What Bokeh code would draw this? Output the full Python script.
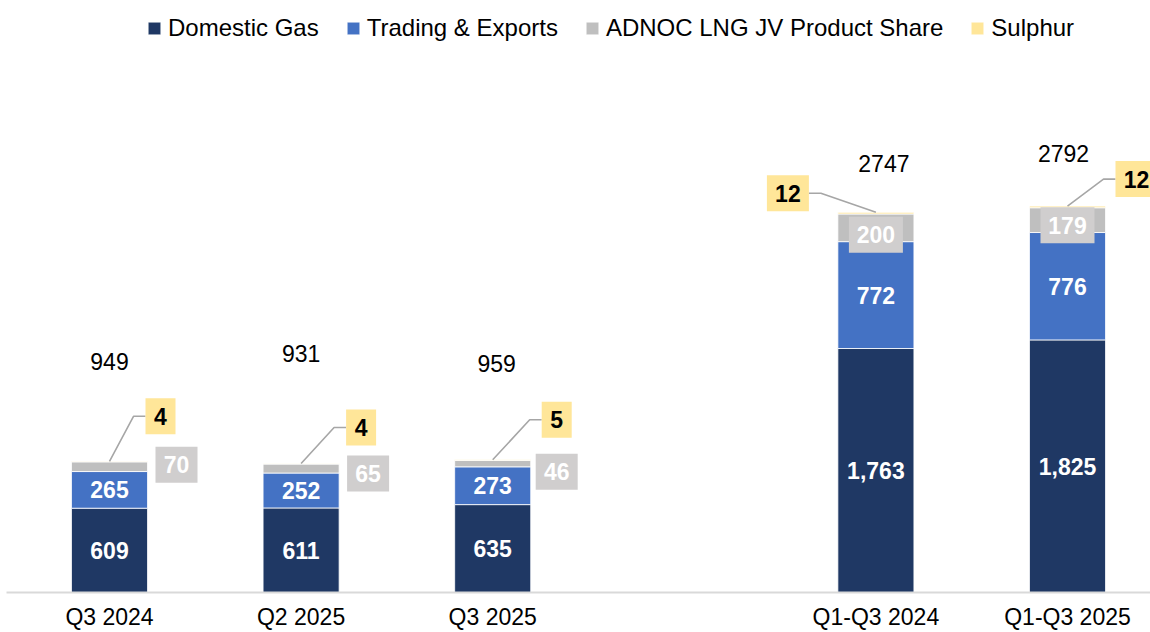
from bokeh.plotting import figure
from bokeh.models import Range1d, FixedTicker, ColumnDataSource
from bokeh.core.properties import value
from bokeh.embed import file_html
from bokeh.resources import INLINE

# ---------------- data ----------------
categories = ["Q3 2024", "Q2 2025", "Q3 2025", "Q1-Q3 2024", "Q1-Q3 2025"]
groups = ["quarter", "quarter", "quarter", "ytd", "ytd"]
domestic_gas = [609, 611, 635, 1763, 1825]
trading_exports = [265, 252, 273, 772, 776]
adnoc_lng = [70, 65, 46, 200, 179]
sulphur = [4, 4, 5, 12, 12]
totals = [949, 931, 959, 2747, 2792]
series_names = ["Domestic Gas", "Trading & Exports", "ADNOC LNG JV Product Share", "Sulphur"]

# ---------------- style / layout ----------------
colors = ["#1F3864", "#4472C4", "#BFBFBF", "#FFE699"]
FONT = value("Liberation Sans")
W, H = 1150, 632
LEFT = 6
BOTTOM = 40
FW, FH = W - LEFT, H - BOTTOM
PX_X = 191.6
X0 = -(109 - LEFT) / PX_X
X1 = X0 + FW / PX_X
PX_Y = 0.1384
Y0, Y1 = 0, FH / PX_Y

# label placement in screen px (dx right, dy up)
sulphur_offsets = [(51, 45), (60, 36), (64, 40), (-88, 19), (69, 27)]
grey_offsets = [(67, 2), (67, -5), (64, -8), (0, -7), (0, -5)]
total_offsets = [(0, 100), (0, 110), (4, 96), (8, 49), (-4, 53)]

# x positions: quarterly group then a gap then YTD group
xpos = []
k = 0
for i, g in enumerate(groups):
    if i > 0 and g != groups[i - 1]:
        k += 1
    xpos.append(k)
    k += 1

src = ColumnDataSource(dict(x=xpos, dom=domestic_gas, trd=trading_exports,
                            lng=adnoc_lng, sul=sulphur))

p = figure(width=W, height=H, output_backend="svg", toolbar_location=None,
           x_range=Range1d(X0, X1), y_range=Range1d(Y0, Y1),
           y_axis_location=None, min_border_left=LEFT, min_border_right=0,
           min_border_top=0, min_border_bottom=BOTTOM)
p.outline_line_color = None
p.grid.visible = False
p.background_fill_color = "white"

BAR_W = 0.397
p.vbar_stack(["dom", "trd", "lng", "sul"], x="x", width=BAR_W, source=src,
             color=colors, line_color="white", line_width=0.8,
             legend_label=series_names)

# legend
lg = p.legend[0]
lg.orientation = "horizontal"
lg.location = (140, 550)
lg.label_text_font = "Liberation Sans"
lg.label_text_font_size = "24px"
lg.label_text_color = "#000000"
lg.glyph_width = 16
lg.glyph_height = 16
lg.label_standoff = 6
lg.spacing = 26
lg.padding = 0
lg.margin = 0
lg.border_line_alpha = 0
lg.background_fill_alpha = 0

# segment labels
dom_y = [d / 2 for d in domestic_gas]
trd_y = [d + t / 2 for d, t in zip(domestic_gas, trading_exports)]
p.text(x=xpos, y=dom_y, text=[f"{v:,}" for v in domestic_gas], text_align="center",
       text_baseline="middle", text_color="white", text_font=FONT,
       text_font_style="bold", text_font_size="23px")
p.text(x=xpos, y=trd_y, text=[f"{v:,}" for v in trading_exports], text_align="center",
       text_baseline="middle", text_color="white", text_font=FONT,
       text_font_style="bold", text_font_size="23px")

# grey callouts (ADNOC LNG)
g_x, g_y, g_w = [], [], []
for i in range(len(categories)):
    mid = domestic_gas[i] + trading_exports[i] + adnoc_lng[i] / 2
    dx, dy = grey_offsets[i]
    g_x.append(xpos[i] + dx / PX_X)
    g_y.append(mid + dy / PX_Y)
    g_w.append(18 + 12 * len(str(adnoc_lng[i])))
p.rect(x=g_x, y=g_y, width=g_w, height=36, width_units="screen", height_units="screen",
       fill_color="#D0CECE", line_color=None)
p.text(x=g_x, y=g_y, text=[str(v) for v in adnoc_lng], text_align="center",
       text_baseline="middle", text_color="white", text_font=FONT,
       text_font_style="bold", text_font_size="23px")

# sulphur callouts with leader lines
s_x, s_y, s_w, lx, ly = [], [], [], [], []
for i in range(len(categories)):
    top = domestic_gas[i] + trading_exports[i] + adnoc_lng[i] + sulphur[i]
    dx, dy = sulphur_offsets[i]
    bw = 18 + 12 * len(str(sulphur[i]))
    cx = xpos[i] + dx / PX_X
    cy = top + dy / PX_Y
    s_x.append(cx); s_y.append(cy); s_w.append(bw)
    if dx > 0:
        edge = cx - (bw / 2) / PX_X
        knee = edge - 12 / PX_X
    else:
        edge = cx + (bw / 2) / PX_X
        knee = edge + 12 / PX_X
    lx.append([xpos[i], knee, edge])
    ly.append([top, cy, cy])
p.multi_line(xs=lx, ys=ly, line_color="#A6A6A6", line_width=1.6)
p.rect(x=s_x, y=s_y, width=s_w, height=36, width_units="screen", height_units="screen",
       fill_color="#FFE699", line_color=None)
p.text(x=s_x, y=s_y, text=[str(v) for v in sulphur], text_align="center",
       text_baseline="middle", text_color="black", text_font=FONT,
       text_font_style="bold", text_font_size="23px")

# totals
t_x = [xpos[i] + total_offsets[i][0] / PX_X for i in range(len(categories))]
t_y = [domestic_gas[i] + trading_exports[i] + adnoc_lng[i] + sulphur[i] + total_offsets[i][1] / PX_Y
       for i in range(len(categories))]
p.text(x=t_x, y=t_y, text=[str(v) for v in totals], text_align="center",
       text_baseline="middle", text_color="black", text_font=FONT,
       text_font_size="23px")

# axis
ax = p.xaxis[0]
ax.ticker = FixedTicker(ticks=xpos)
ax.major_label_overrides = {x: c for x, c in zip(xpos, categories)}
ax.axis_line_color = "#D9D9D9"
ax.axis_line_width = 2
ax.major_tick_line_color = None
ax.minor_tick_line_color = None
ax.major_tick_out = 0
ax.major_tick_in = 0
ax.major_label_text_font = "Liberation Sans"
ax.major_label_text_font_size = "23px"
ax.major_label_text_color = "black"
ax.major_label_standoff = 11

open("out.html", "w").write(file_html(p, INLINE))
